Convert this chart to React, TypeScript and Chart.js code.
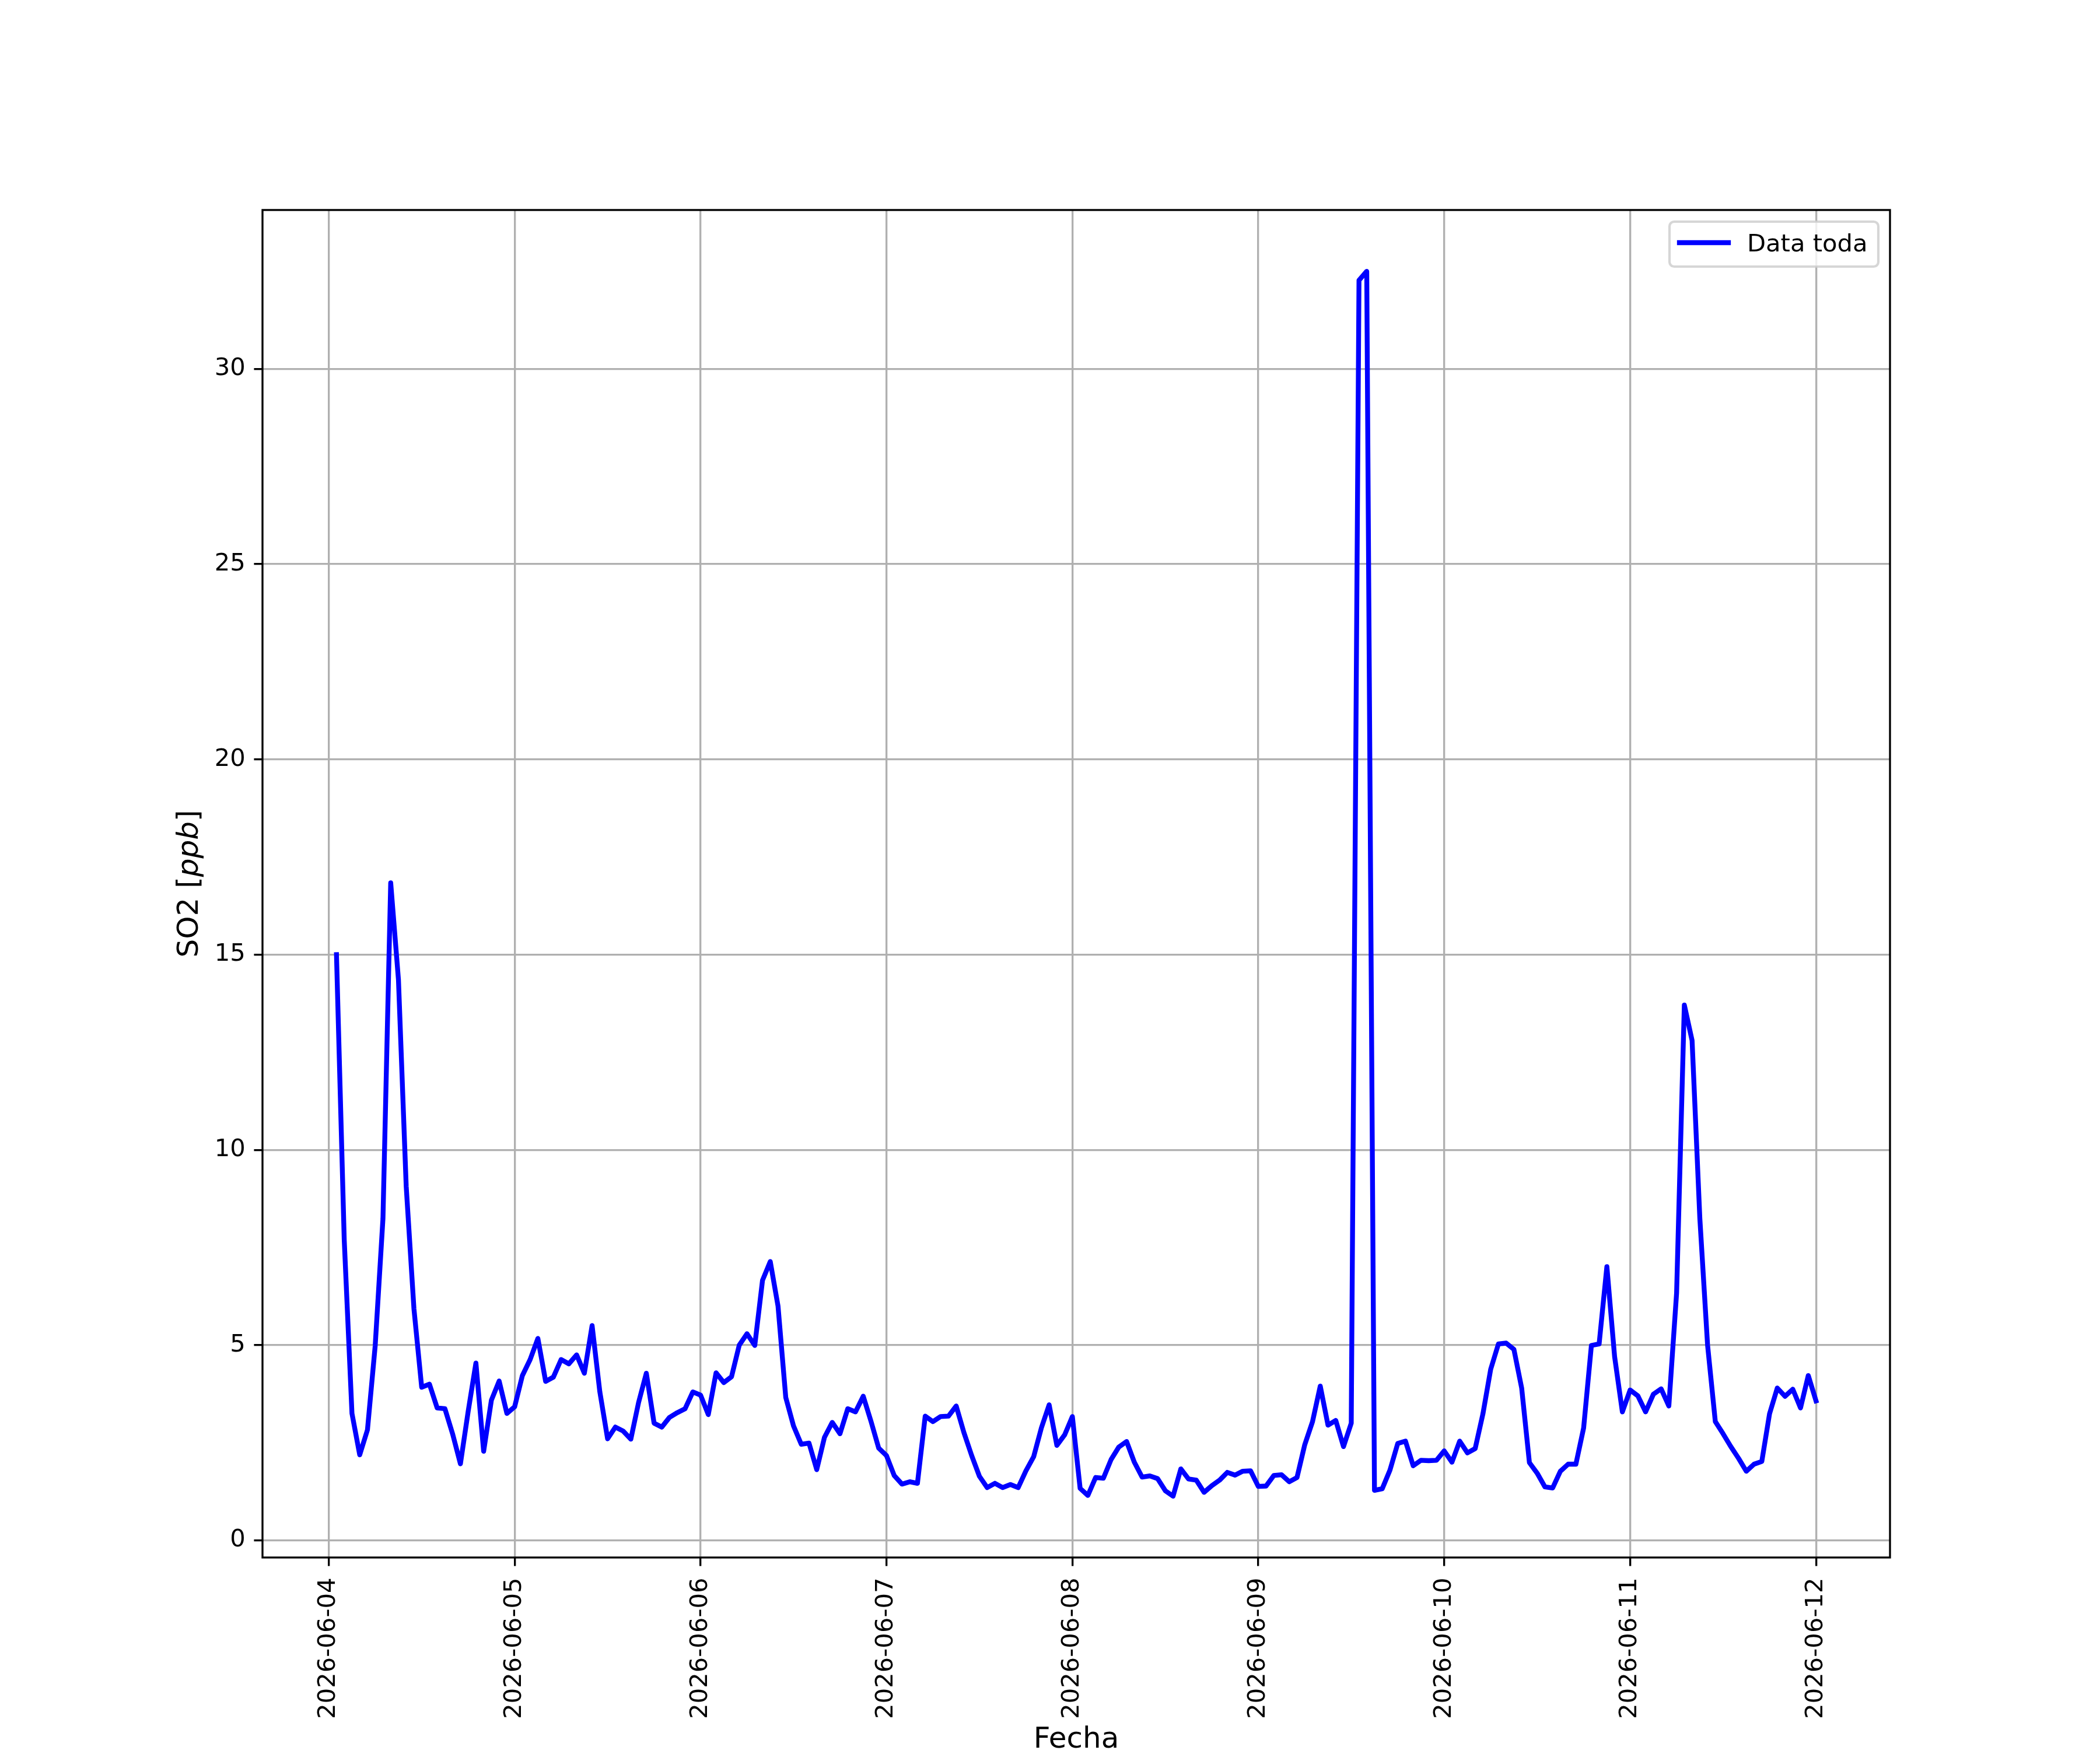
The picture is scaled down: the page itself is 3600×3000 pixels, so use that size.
import React, { useRef, useEffect } from "react";
import { Chart, registerables } from "chart.js";

Chart.register(...registerables);

// hourly SO2 readings, first sample at 2026-06-04 01:00, last at 2026-06-12 00:00
const so2Day1 = [
	15.0, 7.7, 3.25, 2.19, 2.83, 4.99, 8.24, 16.84, 14.36, 9.07, 5.93, 3.92,
	4.0, 3.39, 3.37, 2.72, 1.96, 3.3, 4.54, 2.28, 3.59, 4.08, 3.25, 3.42,
];
const so2Day2 = [
	4.22, 4.63, 5.17, 4.07, 4.18, 4.63, 4.52, 4.75, 4.28, 5.5, 3.8, 2.6,
	2.9, 2.8, 2.59, 3.53, 4.28, 3.0, 2.9, 3.15, 3.27, 3.37, 3.8, 3.72,
];
const so2Day3 = [
	3.22, 4.29, 4.04, 4.19, 5.0, 5.29, 4.99, 6.66, 7.14, 6.0, 3.66, 2.93,
	2.46, 2.49, 1.81, 2.64, 3.02, 2.73, 3.37, 3.29, 3.69, 3.05, 2.36, 2.17,
];
const so2Day4 = [
	1.66, 1.44, 1.5, 1.46, 3.18, 3.04, 3.17, 3.18, 3.44, 2.76, 2.17, 1.64,
	1.35, 1.46, 1.35, 1.43, 1.35, 1.78, 2.14, 2.88, 3.47, 2.43, 2.7, 3.17,
];
const so2Day5 = [
	1.33, 1.15, 1.61, 1.59, 2.07, 2.39, 2.53, 2.0, 1.62, 1.65, 1.58, 1.27,
	1.13, 1.83, 1.57, 1.54, 1.23, 1.4, 1.54, 1.74, 1.67, 1.77, 1.78, 1.38,
];
const so2Day6 = [
	1.39, 1.66, 1.68, 1.5, 1.61, 2.45, 3.04, 3.95, 2.95, 3.07, 2.4, 3.0,
	32.27, 32.5, 1.28, 1.32, 1.8, 2.48, 2.54, 1.91, 2.05, 2.04, 2.05, 2.29,
];
const so2Day7 = [
	2.0, 2.54, 2.24, 2.35, 3.24, 4.38, 5.03, 5.05, 4.89, 3.9, 1.99, 1.72,
	1.37, 1.34, 1.77, 1.95, 1.95, 2.88, 4.99, 5.03, 7.01, 4.7, 3.29, 3.85,
];
const so2Day8 = [
	3.7, 3.29, 3.74, 3.88, 3.44, 6.33, 13.71, 12.8, 8.25, 5.0, 3.04, 2.73,
	2.4, 2.1, 1.77, 1.95, 2.02, 3.24, 3.9, 3.69, 3.87, 3.39, 4.22, 3.57,
];

const so2Values = [
	...so2Day1, ...so2Day2, ...so2Day3, ...so2Day4,
	...so2Day5, ...so2Day6, ...so2Day7, ...so2Day8,
];
const firstHour = 1; // hours after 2026-06-04 00:00

const dayTickHours = [0, 24, 48, 72, 96, 120, 144, 168, 192];
const dayTickLabels = [
	"2026-06-04", "2026-06-05", "2026-06-06", "2026-06-07", "2026-06-08",
	"2026-06-09", "2026-06-10", "2026-06-11", "2026-06-12",
];
const yTickValues = [0, 5, 10, 15, 20, 25, 30];

const seriesLabel = "Data toda";
const xTitle = "Fecha";

const FONT = '"DejaVu Sans"';
const PT = 300 / 72;

const framePlugin = {
	id: "frame",
	afterDatasetsDraw(chart: any) {
		const { ctx, chartArea: a } = chart;
		ctx.save();
		ctx.strokeStyle = "#000";
		ctx.lineWidth = 0.8 * PT;
		ctx.strokeRect(a.left, a.top, a.right - a.left, a.bottom - a.top);
		ctx.restore();
	},
};

const labelsPlugin = {
	id: "axisLabels",
	afterDraw(chart: any) {
		const { ctx, chartArea: a } = chart;
		ctx.save();
		ctx.fillStyle = "#000";
		ctx.textBaseline = "alphabetic";

		// x title
		ctx.font = `${12 * PT}px ${FONT}`;
		ctx.textAlign = "center";
		ctx.fillText(xTitle, (a.left + a.right) / 2, 2996);

		// y title: SO2 [ppb] with italic ppb
		const parts = [
			{ t: "SO2 [", f: `${12 * PT}px ${FONT}` },
			{ t: "ppb", f: `italic ${12 * PT}px ${FONT}` },
			{ t: "]", f: `${12 * PT}px ${FONT}` },
		];
		let total = 0;
		for (const p of parts) {
			ctx.font = p.f;
			total += ctx.measureText(p.t).width;
		}
		ctx.translate(339, (a.top + a.bottom) / 2);
		ctx.rotate(-Math.PI / 2);
		ctx.textAlign = "left";
		let x = -total / 2;
		for (const p of parts) {
			ctx.font = p.f;
			ctx.fillText(p.t, x, 0);
			x += ctx.measureText(p.t).width;
		}
		ctx.restore();
	},
};

const legendPlugin = {
	id: "boxLegend",
	afterDraw(chart: any) {
		const { ctx } = chart;
		const ds = chart.data.datasets[0];
		const x0 = 2862, y0 = 380, x1 = 3220, y1 = 457, r = 8;
		ctx.save();
		ctx.beginPath();
		ctx.moveTo(x0 + r, y0);
		ctx.arcTo(x1, y0, x1, y1, r);
		ctx.arcTo(x1, y1, x0, y1, r);
		ctx.arcTo(x0, y1, x0, y0, r);
		ctx.arcTo(x0, y0, x1, y0, r);
		ctx.closePath();
		ctx.fillStyle = "rgba(255,255,255,0.8)";
		ctx.fill();
		ctx.strokeStyle = "rgba(204,204,204,0.8)";
		ctx.lineWidth = 1.0 * PT;
		ctx.stroke();

		ctx.beginPath();
		ctx.moveTo(2879, 416);
		ctx.lineTo(2963, 416);
		ctx.strokeStyle = ds.borderColor;
		ctx.lineWidth = ds.borderWidth;
		ctx.lineCap = "square";
		ctx.stroke();

		ctx.fillStyle = "#000";
		ctx.font = `${10 * PT}px ${FONT}`;
		ctx.textAlign = "left";
		ctx.textBaseline = "alphabetic";
		ctx.fillText(ds.label, 2995, 431);
		ctx.restore();
	},
};

const App: React.FC = () => {
	const chartRef = useRef<HTMLCanvasElement | null>(null);
	const chartInstance = useRef<Chart | null>(null);

	useEffect(() => {
		document.body.style.margin = "0";
		if (chartInstance.current) {
			chartInstance.current.destroy();
			chartInstance.current = null;
		}
		if (!chartRef.current) return;
		const ctx = chartRef.current.getContext("2d");
		if (!ctx) return;

		const points = so2Values.map((v, i) => ({ x: firstHour + i, y: v }));

		const gridOpts = {
			color: "#b0b0b0",
			lineWidth: 0.8 * PT,
			tickColor: "#000",
			tickWidth: 0.8 * PT,
			tickLength: 3.5 * PT,
		};
		const tickFont = { family: FONT, size: 10 * PT };

		chartInstance.current = new Chart(ctx, {
			type: "line",
			data: {
				datasets: [
					{
						label: seriesLabel,
						data: points,
						borderColor: "#0000ff",
						backgroundColor: "#0000ff",
						borderWidth: 2 * PT,
						borderJoinStyle: "round",
						borderCapStyle: "square",
						pointRadius: 0,
						tension: 0,
						fill: false,
					},
				],
			},
			options: {
				responsive: false,
				devicePixelRatio: 1,
				animation: false,
				layout: { padding: { top: 360, right: 360, left: 0, bottom: 0 } },
				plugins: {
					legend: { display: false },
					tooltip: { enabled: false },
				},
				scales: {
					x: {
						type: "linear",
						bounds: "data",
						min: -8.55,
						max: 201.55,
						afterBuildTicks: (scale: any) => {
							scale.ticks = dayTickHours.map((v) => ({ value: v }));
						},
						afterFit: (scale: any) => {
							scale.height = 330;
						},
						ticks: {
							autoSkip: false,
							minRotation: 90,
							maxRotation: 90,
							padding: 20,
							color: "#000",
							font: tickFont,
							callback: (_v: any, i: number) => dayTickLabels[i],
						},
						grid: gridOpts,
						border: { display: false },
					},
					y: {
						type: "linear",
						bounds: "data",
						min: -0.44,
						max: 34.07,
						afterBuildTicks: (scale: any) => {
							scale.ticks = yTickValues.map((v) => ({ value: v }));
						},
						afterFit: (scale: any) => {
							scale.width = 450;
						},
						ticks: {
							padding: 3.5 * PT,
							color: "#000",
							font: tickFont,
							callback: (v: any) => String(v),
						},
						grid: gridOpts,
						border: { display: false },
					},
				},
			} as any,
			plugins: [framePlugin, labelsPlugin, legendPlugin],
		});

		return () => {
			if (chartInstance.current) {
				chartInstance.current.destroy();
				chartInstance.current = null;
			}
		};
	}, []);

	return (
		<div style={{ width: 3600, height: 3000, background: "#fff" }}>
			<canvas ref={chartRef} width={3600} height={3000}></canvas>
		</div>
	);
};

export default App;
